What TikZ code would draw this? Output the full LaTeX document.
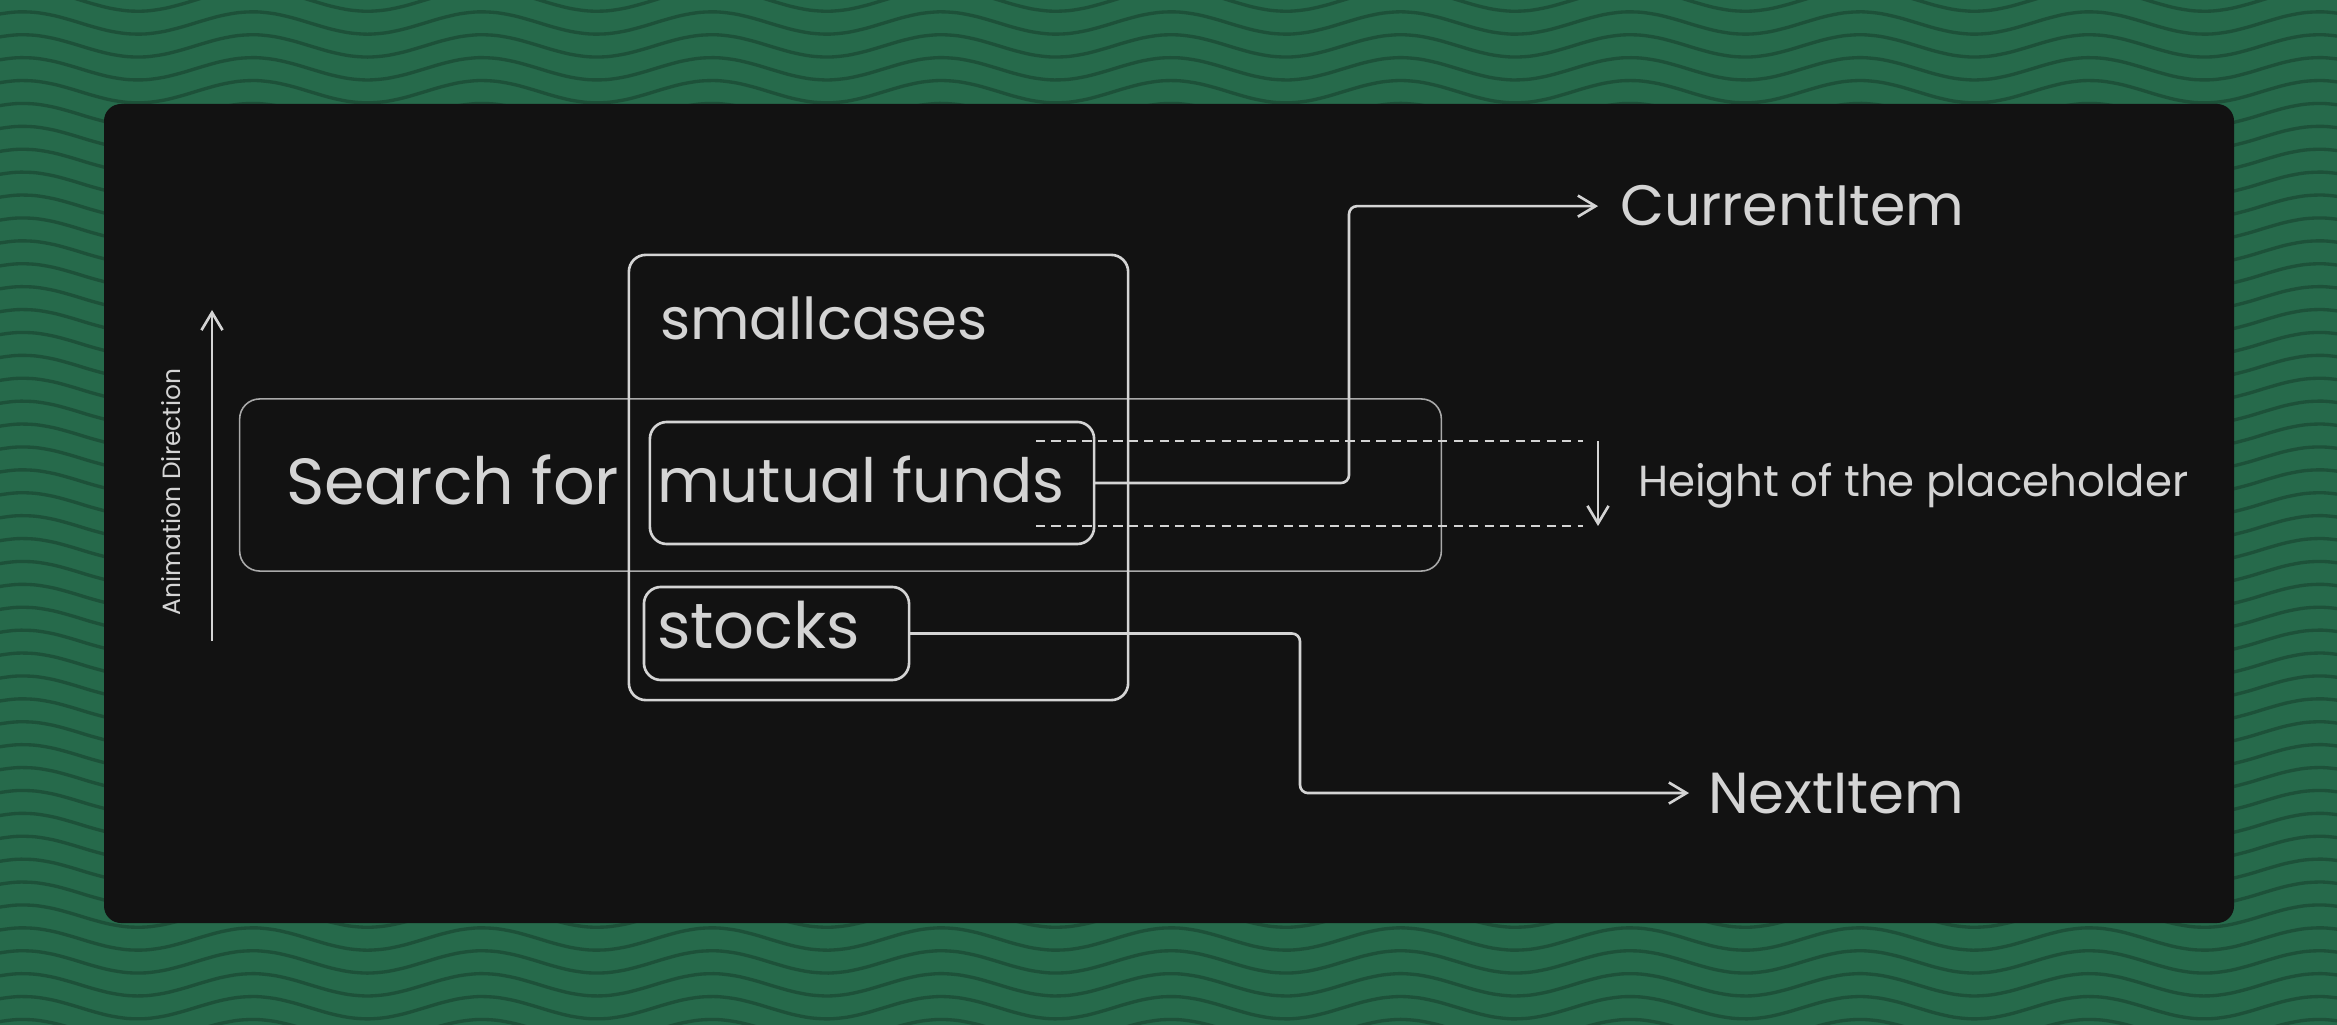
\documentclass[tikz,border=0pt]{standalone}
\usepackage{fontspec}
\setmainfont{Poppins}
\usepackage{graphicx}
\usetikzlibrary{arrows.meta}
\definecolor{bggreen}{HTML}{266A4B}
\definecolor{wavegreen}{HTML}{1D5139}
\definecolor{panelc}{HTML}{121212}
\definecolor{ink}{HTML}{D4D4D4}
\definecolor{thinink}{HTML}{A9A9A9}
\newcommand\fitw[2]{\resizebox{#1}{!}{#2}}
\tikzset{
  box/.style={draw=ink, line width=0.75pt, rounded corners=0.17cm, inner sep=0pt, outer sep=0pt},
  thinbox/.style={draw=thinink, line width=0.45pt, rounded corners=0.2cm, inner sep=0pt, outer sep=0pt},
  txt/.style={text=ink, inner sep=0pt, outer sep=0pt, anchor=base west},
  conn/.style={draw=ink, line width=0.75pt, rounded corners=0.08cm, -{Straight Barb[length=5pt,width=6pt]}},
  dashline/.style={draw=ink, line width=0.75pt, dash pattern=on 2.6pt off 1.8pt},
  wave/.style={draw=wavegreen, line width=0.95pt},
}
\begin{document}
\begin{tikzpicture}[x=0.01cm, y=-0.01cm]
\useasboundingbox (0,0) rectangle (2337,1025);
\fill[bggreen] (0,0) rectangle (2337,1025);
\begin{scope}
\clip (0,0) rectangle (2337,1025);
\foreach \k in {-2,...,45}{
  \draw[wave] plot[domain=-20:2360, samples=130, smooth] (\x, {23 + \k*22.9 - 11.2*cos(1.5679*(\x-23))});
}
\end{scope}
\fill[panelc, rounded corners=0.17cm] (104,104) rectangle (2234,923);

% boxes
\node[thinbox, minimum width=12.01cm, minimum height=1.72cm] (search) at (840.5,485) {};
\node[box, minimum width=4.99cm, minimum height=4.45cm] (sc) at (878.5,477.5) {};
\node[box, minimum width=4.44cm, minimum height=1.22cm] (mf) at (872,483) {};
\node[box, minimum width=2.65cm, minimum height=0.93cm] (st) at (776.5,633.5) {};

% texts
\node[txt] (searchtxt) at (286,505) {\fitw{3.33cm}{Search for}};
\node[txt] (sctxt) at (660,340) {\fitw{3.27cm}{smallcases}};
\node[txt] (mftxt) at (657,502) {\fitw{4.07cm}{mutual funds}};
\node[txt] (sttxt) at (657,648) {\fitw{2.03cm}{stocks}};
\node[txt, inner xsep=0.22cm] (cur) at (1598,226) {\fitw{3.44cm}{CurrentItem}};
\node[txt, inner xsep=0.19cm] (nxt) at (1689,813) {\fitw{2.56cm}{NextItem}};
\node[txt] (hgt) at (1638,497) {\fitw{5.50cm}{Height of the placeholder}};
\node[txt, rotate=90, anchor=base] (anim) at (180,492) {\fitw{2.46cm}{Animation Direction}};

% coordinates
\coordinate (cbend) at (1349,0);
\coordinate (nbend) at (1300,0);
\coordinate (d1a) at (1036,441);
\coordinate (d1b) at (1583,441);
\coordinate (d2a) at (1036,526);
\coordinate (d2b) at (1583,526);
\coordinate (ha) at (1598,441);
\coordinate (hb) at (1598,526);
\coordinate (aa) at (212,641);
\coordinate (ab) at (212,310);

% connectors
\draw[conn] (mf.east) -- (mf.east -| cbend) -- (cbend |- cur.west) -- (cur.west);
\draw[conn] (st.east) -- (st.east -| nbend) -- (nbend |- nxt.west) -- (nxt.west);
\draw[dashline] (d1a) -- (d1b);
\draw[dashline] (d2a) -- (d2b);
\draw[conn] (ha) -- (hb);
\draw[conn] (aa) -- (ab);
\end{tikzpicture}
\end{document}
